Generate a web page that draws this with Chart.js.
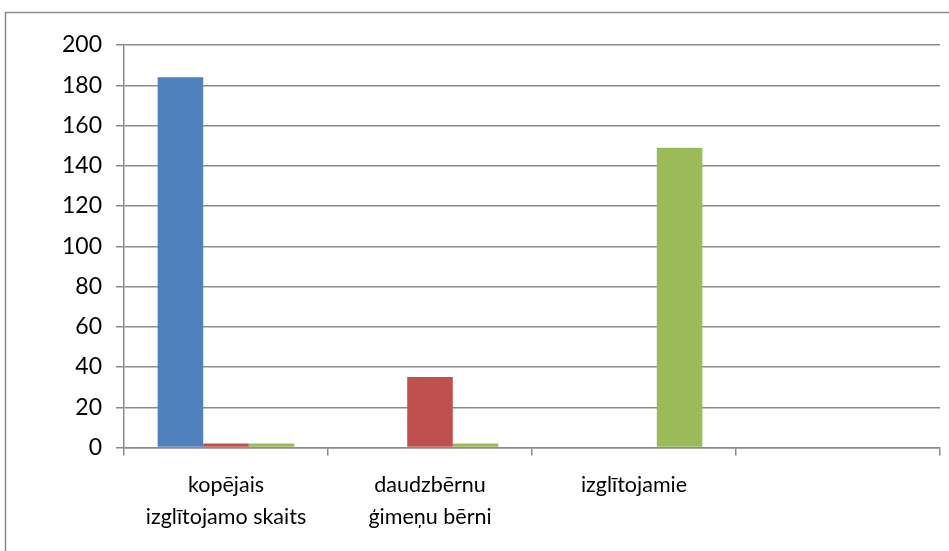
<!DOCTYPE html>
<html>
<head>
<meta charset="utf-8">
<script src="https://cdn.jsdelivr.net/npm/chart.js@4/dist/chart.umd.min.js"></script>
<style>
  html, body { margin: 0; padding: 0; background: #fff; }
  #wrap { width: 949px; height: 551px; }
</style>
</head>
<body>
<div id="wrap"><canvas id="barChart" width="949" height="551"></canvas></div>
<script>
// Data for chart
const categories = [["kopējais", "izglītojamo skaits"], ["daudzbērnu", "ģimeņu bērni"], "izglītojamie", ""];
const series1 = [184, 0, 0, null];
const series2 = [2, 35, 0, null];
const series3 = [2, 2, 149, null];
const yTicks = [0, 20, 40, 60, 80, 100, 120, 140, 160, 180, 200];

const gridGray = "#8c8c8c";

// outer frame of the chart object (left and top edges visible)
const framePlugin = {
    id: "frame",
    beforeDraw(chart) {
        const ctx = chart.ctx;
        ctx.save();
        ctx.fillStyle = "#fff";
        ctx.fillRect(0, 0, chart.width, chart.height);
        ctx.strokeStyle = "#8c8c8c";
        ctx.lineWidth = 1.5;
        ctx.strokeRect(5.5, 12.5, 1200, 1200);
        ctx.restore();
    },
};

const barCtx = document.getElementById("barChart").getContext("2d");
new Chart(barCtx, {
    type: "bar",
    data: {
        labels: categories,
        datasets: [
            { label: "1. sērija", data: series1, backgroundColor: "#4F81BD" },
            { label: "2. sērija", data: series2, backgroundColor: "#C0504D" },
            { label: "3. sērija", data: series3, backgroundColor: "#9BBB59" },
        ],
    },
    options: {
        responsive: false,
        animation: false,
        layout: {
            padding: { left: 0, right: 9, top: 45, bottom: 0 },
        },
        datasets: {
            bar: { categoryPercentage: 0.67, barPercentage: 1.0 },
        },
        plugins: {
            legend: { display: false },
            tooltip: { enabled: false },
        },
        scales: {
            x: {
                offset: true,
                grid: {
                    offset: true,
                    drawOnChartArea: false,
                    drawTicks: true,
                    tickLength: 8,
                    color: gridGray,
                    lineWidth: 1.5,
                },
                border: { color: gridGray, width: 1.5 },
                ticks: {
                    color: "#000",
                    padding: 13,
                    maxRotation: 0,
                    autoSkip: false,
                    font: { family: "Lato, 'Open Sans', sans-serif", size: 21.5, lineHeight: 1.5 },
                },
                afterFit: (scale) => { scale.height = 103.5; },
            },
            y: {
                min: 0,
                max: 200,
                afterBuildTicks: (scale) => { scale.ticks = yTicks.map((v) => ({ value: v })); },
                grid: {
                    color: gridGray,
                    lineWidth: 1.5,
                    tickLength: 8,
                },
                border: { color: gridGray, width: 1.5 },
                ticks: {
                    color: "#000",
                    padding: 14,
                    font: { family: "Lato, 'Open Sans', sans-serif", size: 23 },
                },
                afterFit: (scale) => { scale.width = 124; },
            },
        },
    },
    plugins: [framePlugin],
});
</script>
</body>
</html>
